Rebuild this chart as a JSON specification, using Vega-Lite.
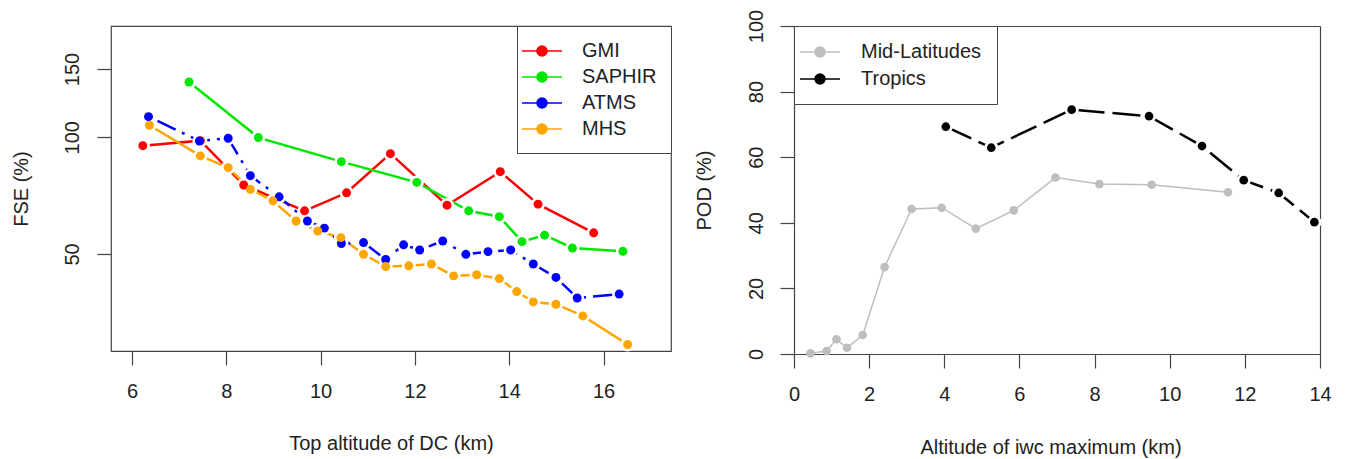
{
  "$schema": "https://vega.github.io/schema/vega-lite/v6.json",
  "background": "white",
  "padding": {"left": 10, "top": 9, "right": 5, "bottom": 5},
  "config": {
    "font": "Liberation Sans",
    "view": {"stroke": "#444", "strokeWidth": 1.2},
    "axis": {
      "labelFont": "Liberation Sans", "labelFontSize": 20, "labelColor": "#222",
      "titleFont": "Liberation Sans", "titleFontSize": 20, "titleFontWeight": "normal", "titleColor": "#222",
      "tickColor": "#444", "domainColor": "#444", "tickSize": 14, "tickWidth": 1.2, "domainWidth": 1.2,
      "grid": false, "labelFlush": false, "minExtent": 50, "maxExtent": 50
    },
    "legend": {
      "labelFont": "Liberation Sans", "labelFontSize": 20, "labelColor": "#222"
    }
  },
  "datasets": {
    "left": [
      {"series": "GMI", "x": 6.23, "y": 95.1},
      {"series": "GMI", "x": 7.45, "y": 98.0},
      {"series": "GMI", "x": 8.37, "y": 75.3},
      {"series": "GMI", "x": 9.66, "y": 64.6},
      {"series": "GMI", "x": 10.55, "y": 71.9},
      {"series": "GMI", "x": 11.48, "y": 90.7},
      {"series": "GMI", "x": 12.68, "y": 66.8},
      {"series": "GMI", "x": 13.81, "y": 81.5},
      {"series": "GMI", "x": 14.61, "y": 67.2},
      {"series": "GMI", "x": 15.79, "y": 56.7},
      {"series": "SAPHIR", "x": 7.21, "y": 138.8},
      {"series": "SAPHIR", "x": 8.68, "y": 99.8},
      {"series": "SAPHIR", "x": 10.44, "y": 86.5},
      {"series": "SAPHIR", "x": 12.04, "y": 76.5},
      {"series": "SAPHIR", "x": 13.14, "y": 64.6},
      {"series": "SAPHIR", "x": 13.79, "y": 62.4},
      {"series": "SAPHIR", "x": 14.27, "y": 53.8},
      {"series": "SAPHIR", "x": 14.75, "y": 55.9},
      {"series": "SAPHIR", "x": 15.34, "y": 51.8},
      {"series": "SAPHIR", "x": 16.41, "y": 50.8},
      {"series": "ATMS", "x": 6.35, "y": 113.0},
      {"series": "ATMS", "x": 7.43, "y": 97.8},
      {"series": "ATMS", "x": 8.04, "y": 99.4},
      {"series": "ATMS", "x": 8.51, "y": 79.6},
      {"series": "ATMS", "x": 9.12, "y": 70.2},
      {"series": "ATMS", "x": 9.72, "y": 60.8},
      {"series": "ATMS", "x": 10.08, "y": 58.3},
      {"series": "ATMS", "x": 10.44, "y": 53.2},
      {"series": "ATMS", "x": 10.91, "y": 53.5},
      {"series": "ATMS", "x": 11.38, "y": 48.4},
      {"series": "ATMS", "x": 11.76, "y": 52.8},
      {"series": "ATMS", "x": 12.10, "y": 51.2},
      {"series": "ATMS", "x": 12.59, "y": 54.0},
      {"series": "ATMS", "x": 13.08, "y": 49.9},
      {"series": "ATMS", "x": 13.55, "y": 50.7},
      {"series": "ATMS", "x": 14.03, "y": 51.2},
      {"series": "ATMS", "x": 14.51, "y": 47.1},
      {"series": "ATMS", "x": 14.99, "y": 43.5},
      {"series": "ATMS", "x": 15.44, "y": 38.5},
      {"series": "ATMS", "x": 16.33, "y": 39.4},
      {"series": "MHS", "x": 6.37, "y": 107.4},
      {"series": "MHS", "x": 7.45, "y": 89.5},
      {"series": "MHS", "x": 8.04, "y": 83.5},
      {"series": "MHS", "x": 8.51, "y": 73.4},
      {"series": "MHS", "x": 8.99, "y": 68.5},
      {"series": "MHS", "x": 9.48, "y": 60.8},
      {"series": "MHS", "x": 9.94, "y": 57.3},
      {"series": "MHS", "x": 10.43, "y": 55.1},
      {"series": "MHS", "x": 10.91, "y": 49.9},
      {"series": "MHS", "x": 11.38, "y": 46.4},
      {"series": "MHS", "x": 11.87, "y": 46.6},
      {"series": "MHS", "x": 12.35, "y": 47.1},
      {"series": "MHS", "x": 12.82, "y": 43.9},
      {"series": "MHS", "x": 13.31, "y": 44.2},
      {"series": "MHS", "x": 13.79, "y": 43.2},
      {"series": "MHS", "x": 14.16, "y": 40.0},
      {"series": "MHS", "x": 14.51, "y": 37.6},
      {"series": "MHS", "x": 14.99, "y": 37.1},
      {"series": "MHS", "x": 15.56, "y": 34.6},
      {"series": "MHS", "x": 16.51, "y": 29.2}
    ],
    "right": [
      {"series": "Mid-Latitudes", "x": 0.44, "y": 0.2},
      {"series": "Mid-Latitudes", "x": 0.87, "y": 0.9},
      {"series": "Mid-Latitudes", "x": 1.13, "y": 4.5},
      {"series": "Mid-Latitudes", "x": 1.41, "y": 1.9},
      {"series": "Mid-Latitudes", "x": 1.83, "y": 5.8},
      {"series": "Mid-Latitudes", "x": 2.41, "y": 26.5},
      {"series": "Mid-Latitudes", "x": 3.13, "y": 44.2},
      {"series": "Mid-Latitudes", "x": 3.93, "y": 44.6},
      {"series": "Mid-Latitudes", "x": 4.84, "y": 38.2},
      {"series": "Mid-Latitudes", "x": 5.85, "y": 43.8},
      {"series": "Mid-Latitudes", "x": 6.96, "y": 53.8},
      {"series": "Mid-Latitudes", "x": 8.13, "y": 51.8},
      {"series": "Mid-Latitudes", "x": 9.52, "y": 51.6},
      {"series": "Mid-Latitudes", "x": 11.55, "y": 49.3},
      {"series": "Tropics", "x": 4.04, "y": 69.3},
      {"series": "Tropics", "x": 5.25, "y": 62.9},
      {"series": "Tropics", "x": 7.39, "y": 74.5},
      {"series": "Tropics", "x": 9.45, "y": 72.5},
      {"series": "Tropics", "x": 10.86, "y": 63.4},
      {"series": "Tropics", "x": 11.97, "y": 53.0},
      {"series": "Tropics", "x": 12.90, "y": 49.1},
      {"series": "Tropics", "x": 13.85, "y": 40.2}
    ]
  },
  "bounds": "flush",
  "spacing": 110,
  "resolve": {"scale": {"x": "independent", "y": "independent", "fill": "independent", "stroke": "independent"}},
  "hconcat": [
    {
      "width": 560,
      "height": 325,
      "data": {"name": "left"},
      "encoding": {
        "x": {"field": "x", "type": "quantitative",
          "scale": {"domain": [5.555, 17.43], "nice": false, "zero": false},
          "axis": {"values": [6, 8, 10, 12, 14, 16], "title": "Top altitude of DC (km)", "domain": false, "labelPadding": 16, "titlePadding": 32}},
        "y": {"field": "y", "type": "quantitative",
          "scale": {"type": "log", "domain": [28.1, 193.6], "nice": false},
          "axis": {"values": [50, 100, 150], "title": "FSE (%)", "domain": false, "labelAngle": -90, "labelAlign": "center", "labelBaseline": "bottom", "labelPadding": 15, "titlePadding": 30, "labelExpr": "format(datum.value, 'd')"}}
      },
      "layer": [
        {
          "transform": [{"filter": "datum.series !== 'ATMS'"}],
          "mark": {"type": "line", "strokeWidth": 2.5},
          "encoding": {
            "stroke": {"field": "series", "type": "nominal",
              "scale": {"domain": ["GMI", "SAPHIR", "ATMS", "MHS"], "range": ["#ff0000", "#00e600", "#0000ff", "#ffa500"]},
              "legend": {"title": null, "orient": "top-right", "offset": 0, "padding": 14, "strokeColor": "#444", "fillColor": "white",
                "symbolType": "M-2,0L2,0M0.5,0A0.5,0.5,0,1,1,-0.5,0A0.5,0.5,0,1,1,0.5,0Z", "symbolSize": 400, "symbolStrokeWidth": 1.5,
                "labelOffset": 29, "rowPadding": 5}}
          }
        },
        {
          "transform": [{"filter": "datum.series === 'ATMS'"}],
          "mark": {"type": "line", "strokeWidth": 2.5, "strokeDash": [3, 7, 20, 7]},
          "encoding": {
            "stroke": {"field": "series", "type": "nominal",
              "scale": {"domain": ["GMI", "SAPHIR", "ATMS", "MHS"], "range": ["#ff0000", "#00e600", "#0000ff", "#ffa500"]},
              "legend": {"title": null, "orient": "top-right", "offset": 0, "padding": 14, "strokeColor": "#444", "fillColor": "white",
                "symbolType": "M-2,0L2,0M0.5,0A0.5,0.5,0,1,1,-0.5,0A0.5,0.5,0,1,1,0.5,0Z", "symbolSize": 400, "symbolStrokeWidth": 1.5,
                "labelOffset": 29, "rowPadding": 5}}
          }
        },
        {
          "mark": {"type": "point", "filled": true, "color": "white", "opacity": 1, "size": 200}
        },
        {
          "mark": {"type": "point", "filled": true, "opacity": 1, "size": 80, "strokeWidth": 0},
          "encoding": {
            "fill": {"field": "series", "type": "nominal",
              "scale": {"domain": ["GMI", "SAPHIR", "ATMS", "MHS"], "range": ["#ff0000", "#00e600", "#0000ff", "#ffa500"]},
              "legend": {"title": null, "orient": "top-right", "offset": 0, "padding": 14, "strokeColor": "#444", "fillColor": "white",
                "symbolType": "M-2,0L2,0M0.5,0A0.5,0.5,0,1,1,-0.5,0A0.5,0.5,0,1,1,0.5,0Z", "symbolSize": 400, "symbolStrokeWidth": 1.5,
                "labelOffset": 29, "rowPadding": 5}}
          }
        }
      ]
    },
    {
      "width": 539,
      "height": 328,
      "data": {"name": "right"},
      "view": {"stroke": null},
      "layer": [
        {
          "transform": [{"filter": "datum.series === 'Mid-Latitudes'"}],
          "mark": {"type": "line", "strokeWidth": 1.5},
          "encoding": {
            "x": {"field": "x", "type": "quantitative",
              "scale": {"domain": [-0.346, 14], "nice": false, "zero": false},
              "axis": {"orient": "bottom", "values": [0, 2, 4, 6, 8, 10, 12, 14], "title": "Altitude of iwc maximum (km)", "labelPadding": 16, "titlePadding": 33}},
            "y": {"field": "y", "type": "quantitative",
              "scale": {"domain": [0, 100], "nice": false},
              "axis": {"orient": "left", "offset": -13, "values": [0, 20, 40, 60, 80, 100], "title": "POD (%)", "labelAngle": -90, "labelAlign": "center", "labelBaseline": "bottom", "labelPadding": 14, "titlePadding": 30}},
            "stroke": {"field": "series", "type": "nominal",
              "scale": {"domain": ["Mid-Latitudes", "Tropics"], "range": ["#bebebe", "#000000"]},
              "legend": {"title": null, "orient": "none", "legendX": 13, "legendY": 0, "padding": 15, "strokeColor": "#444", "fillColor": "white",
                "symbolType": "M-2,0L2,0M0.5,0A0.5,0.5,0,1,1,-0.5,0A0.5,0.5,0,1,1,0.5,0Z", "symbolSize": 400, "symbolStrokeWidth": 1.5,
                "labelOffset": 30, "rowPadding": 6}}
          }
        },
        {
          "transform": [{"filter": "datum.series === 'Tropics'"}],
          "mark": {"type": "line", "strokeWidth": 2.5, "strokeDash": [28, 8]},
          "encoding": {
            "x": {"field": "x", "type": "quantitative",
              "scale": {"domain": [-0.346, 14], "nice": false, "zero": false}, "axis": null},
            "y": {"field": "y", "type": "quantitative",
              "scale": {"domain": [0, 100], "nice": false}, "axis": null},
            "stroke": {"field": "series", "type": "nominal",
              "scale": {"domain": ["Mid-Latitudes", "Tropics"], "range": ["#bebebe", "#000000"]},
              "legend": {"title": null, "orient": "none", "legendX": 13, "legendY": 0, "padding": 15, "strokeColor": "#444", "fillColor": "white",
                "symbolType": "M-2,0L2,0M0.5,0A0.5,0.5,0,1,1,-0.5,0A0.5,0.5,0,1,1,0.5,0Z", "symbolSize": 400, "symbolStrokeWidth": 1.5,
                "labelOffset": 30, "rowPadding": 6}}
          }
        },
        {
          "transform": [{"filter": "datum.series === 'Tropics'"}],
          "mark": {"type": "point", "filled": true, "color": "white", "opacity": 1, "size": 200},
          "encoding": {
            "x": {"field": "x", "type": "quantitative",
              "scale": {"domain": [-0.346, 14], "nice": false, "zero": false},
              "axis": {"orient": "top", "labels": false, "ticks": false, "title": null, "minExtent": 0, "maxExtent": 0}},
            "y": {"field": "y", "type": "quantitative",
              "scale": {"domain": [0, 100], "nice": false},
              "axis": {"orient": "right", "labels": false, "ticks": false, "title": null, "minExtent": 0, "maxExtent": 0}}
          }
        },
        {
          "mark": {"type": "point", "filled": true, "opacity": 1, "size": 75, "strokeWidth": 0},
          "encoding": {
            "x": {"field": "x", "type": "quantitative",
              "scale": {"domain": [-0.346, 14], "nice": false, "zero": false}, "axis": null},
            "y": {"field": "y", "type": "quantitative",
              "scale": {"domain": [0, 100], "nice": false}, "axis": null},
            "fill": {"field": "series", "type": "nominal",
              "scale": {"domain": ["Mid-Latitudes", "Tropics"], "range": ["#bebebe", "#000000"]},
              "legend": {"title": null, "orient": "none", "legendX": 13, "legendY": 0, "padding": 15, "strokeColor": "#444", "fillColor": "white",
                "symbolType": "M-2,0L2,0M0.5,0A0.5,0.5,0,1,1,-0.5,0A0.5,0.5,0,1,1,0.5,0Z", "symbolSize": 400, "symbolStrokeWidth": 1.5,
                "labelOffset": 30, "rowPadding": 6}}
          }
        }
      ]
    }
  ]
}
